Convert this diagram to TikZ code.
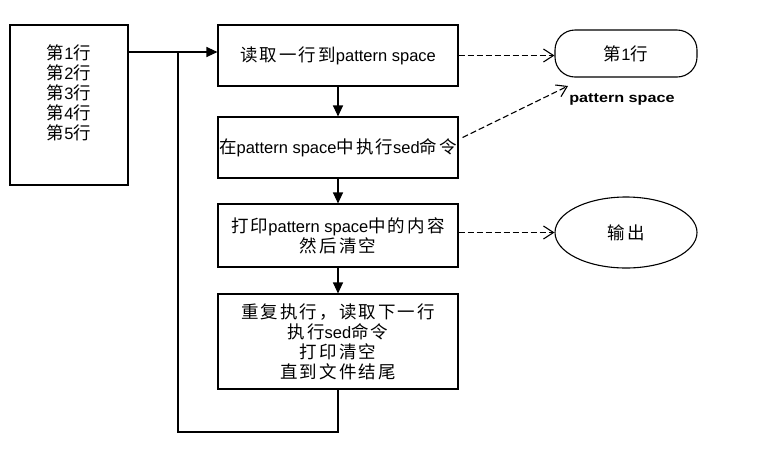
\documentclass[tikz,border=0pt]{standalone}
\usepackage{fontspec}
\usepackage{graphicx}
\setmainfont{Liberation Sans}
\newfontfamily\cjk{Noto Sans CJK SC}[Scale=1.06, LetterSpace=12]
\newcommand\zh[1]{{\cjk #1}}
\usetikzlibrary{arrows.meta,shapes.geometric}
\begin{document}
\begin{tikzpicture}[x=1pt,y=-1pt,
  font=\fontsize{16.5}{20}\selectfont,
  line width=1.1pt,
  box/.style={draw, minimum width=240pt, inner sep=0pt, align=center},
  flow/.style={-{Triangle[length=11pt,width=10pt]}},
  dasharrow/.style={dash pattern=on 6pt off 3pt, -{Straight Barb[length=10pt,width=13pt]}}]
\useasboundingbox (0,0) rectangle (781,451);
% left file box
\node[draw, minimum width=118pt, minimum height=160pt, inner sep=0pt] (file) at (69,105) {};
\node[align=center, inner sep=0pt] (lines) at (69,92.5)
  {\zh{第}1\zh{行}\\\zh{第}2\zh{行}\\\zh{第}3\zh{行}\\\zh{第}4\zh{行}\\\zh{第}5\zh{行}};
% flow boxes
\node[box, minimum height=61pt] (b1) at (338,55.5) {\zh{读取一行到}pattern space};
\node[box, minimum height=61pt] (b2) at (338,147.5) {\zh{在}pattern space\zh{中执行}sed\zh{命令}};
\node[box, minimum height=63pt] (b3) at (338,235.5) {\zh{打印}pattern space\zh{中的内容}\\\zh{然后清空}};
\node[box, minimum height=95pt] (b4) at (338,341.5) {\zh{重复执行，读取下一行}\\\zh{执行}sed\zh{命令}\\\zh{打印清空}\\\zh{直到文件结尾}};
% right shapes
\node[draw, rounded corners=20pt, minimum width=142pt, minimum height=47pt, inner sep=0pt] (ps) at (626,53.5) {\zh{第}1\zh{行}};
\node[inner sep=0pt] (pslabel) at (622,99) {\scalebox{1.2}[1]{\fontsize{13.5}{15}\selectfont\bfseries pattern space}};
\node[draw, ellipse, minimum width=142pt, minimum height=71pt, inner sep=0pt] (out) at (626,232.5) {\zh{输出}};
% connectors
\coordinate (j) at (178,52);
\coordinate (lp) at (178,432);
\coordinate (pt) at (568,86);
\draw[flow] (file.east |- j) -- (b1.west |- j);
\draw[flow] (b1) -- (b2);
\draw[flow] (b2) -- (b3);
\draw[flow] (b3) -- (b4);
\draw (b4.south) |- (lp) -- (j);
\draw[dasharrow] (b1.east) -- (b1.east -| ps.west);
\draw[dasharrow] ([shift={(4,-10)}]b2.east) -- (pt);
\draw[dasharrow] (out.west -| b3.east) -- (out.west);
\end{tikzpicture}
\end{document}
